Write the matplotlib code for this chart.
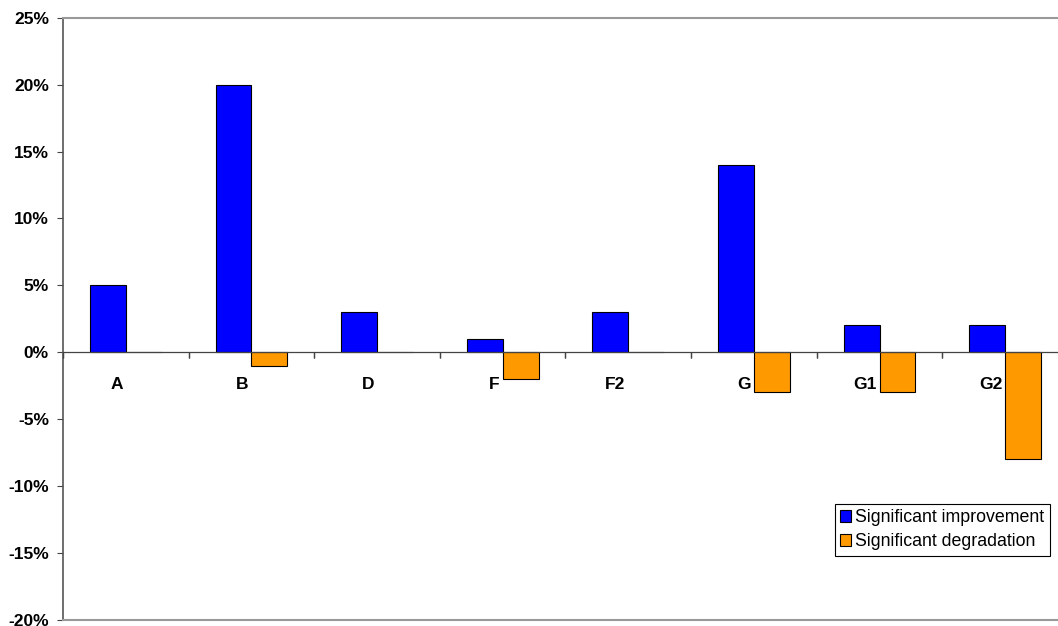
import numpy as np
import matplotlib.pyplot as plt
from matplotlib import transforms

plt.rcParams['font.family'] = ['Liberation Sans', 'DejaVu Sans']

categories = ['A', 'B', 'D', 'F', 'F2', 'G', 'G1', 'G2']
improvement = [5, 20, 3, 1, 3, 14, 2, 2]
degradation = [0, -1, 0, -2, 0, -3, -3, -8]

W, H = 1058, 626
fig = plt.figure(figsize=(W / 100, H / 100), dpi=100)
# plot area runs a little past the right edge of the figure
ax = fig.add_axes([63 / W, 6.5 / H, 1005 / W, 601.5 / H])

x = np.arange(len(categories))
w = 1 / 3.5
ax.bar(x - w / 2, improvement, w, color='#0000ff', edgecolor='black', linewidth=0.8,
       label='Significant improvement', zorder=3)
ax.bar(x + w / 2, degradation, w, color='#ff9900', edgecolor='black', linewidth=0.8,
       label='Significant degradation', zorder=3)

ax.set_xlim(-0.5, len(categories) - 0.5)
ax.set_ylim(-20, 25)

ax.set_yticks(range(-20, 30, 5))
ax.set_yticklabels([f'{v}%' for v in range(-20, 30, 5)], fontsize=12.5, fontweight='bold')
ax.tick_params(axis='y', length=4.3, width=0.8, color='#444444', pad=5.8)

# category axis sits on the zero line
ax.set_xticks([])
ax.axhline(0, color='#444444', linewidth=0.9, zorder=4)
for b in np.arange(-0.5, len(categories), 1.0):
    ax.plot([b, b], [0, 0], marker=3, markersize=4, color='#444444',
            markeredgewidth=0.9, clip_on=False, zorder=4)

shift = transforms.offset_copy(ax.transData, fig=fig, x=-3 / 100 * 72, y=-32 / 100 * 72,
                               units='points')
for i, name in enumerate(categories):
    ax.text(i, 0, name, transform=shift, ha='right', va='center',
            fontsize=12.5, fontweight='bold', zorder=5)

for side in ['top', 'bottom']:
    ax.spines[side].set_color('#999999')
    ax.spines[side].set_linewidth(1.5)
ax.spines['left'].set_color('#555555')
ax.spines['left'].set_linewidth(1.2)
ax.spines['right'].set_visible(False)

leg = fig.legend(loc='upper left', bbox_to_anchor=(835 / W, 1 - 504 / H), fontsize=12.8,
                 frameon=True, fancybox=False, edgecolor='black', framealpha=1,
                 handlelength=0.62, handleheight=0.62, handletextpad=0.22,
                 borderpad=0.3, labelspacing=0.4, borderaxespad=0)
leg.get_frame().set_linewidth(0.8)

fig.savefig('out.png', dpi=100)
